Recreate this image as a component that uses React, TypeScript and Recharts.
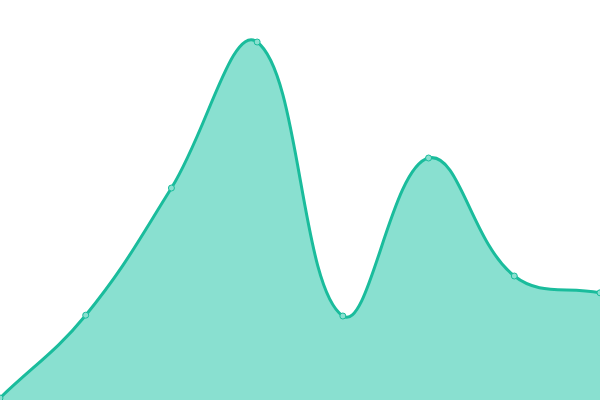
import React from "react";
import { AreaChart, Area, XAxis, YAxis } from "recharts";

const categories = ["A", "B", "C", "D", "E", "F", "G", "H"];
const values = [0.5, 21.2, 53, 89.5, 21, 60.5, 31, 26.8];

const data = categories.map((c, i) => ({ name: c, value: values[i] }));

const TENSION = 0.4;

// Chart.js-style cubic spline curve factory
function splineCurve(context: any) {
  let pts: [number, number][] = [];
  let line = NaN;
  const ctrl = (prev: [number, number], cur: [number, number], next: [number, number]) => {
    const d01 = Math.hypot(cur[0] - prev[0], cur[1] - prev[1]);
    const d12 = Math.hypot(next[0] - cur[0], next[1] - cur[1]);
    let s01 = d01 / (d01 + d12);
    let s12 = d12 / (d01 + d12);
    if (isNaN(s01)) s01 = 0;
    if (isNaN(s12)) s12 = 0;
    const fa = TENSION * s01;
    const fb = TENSION * s12;
    return {
      p: [cur[0] - fa * (next[0] - prev[0]), cur[1] - fa * (next[1] - prev[1])],
      n: [cur[0] + fb * (next[0] - prev[0]), cur[1] + fb * (next[1] - prev[1])],
    };
  };
  return {
    areaStart() {
      line = 0;
    },
    areaEnd() {
      line = NaN;
    },
    lineStart() {
      pts = [];
    },
    lineEnd() {
      const n = pts.length;
      if (n) {
        const first = pts[0];
        if (line) context.lineTo(first[0], first[1]);
        else context.moveTo(first[0], first[1]);
        const cps = pts.map((p, i) => ctrl(pts[i - 1] || p, p, pts[i + 1] || p));
        for (let i = 0; i < n - 1; i++) {
          const a = cps[i].n;
          const b = cps[i + 1].p;
          const e = pts[i + 1];
          context.bezierCurveTo(a[0], a[1], b[0], b[1], e[0], e[1]);
        }
      }
      if (line || (line !== 0 && n === 1)) context.closePath();
      line = 1 - line;
    },
    point(x: number, y: number) {
      pts.push([+x, +y]);
    },
  };
}

export default function App() {
  return (
    <div style={{ position: "absolute", left: 0, top: 0, width: 600, height: 400, background: "#fff" }}>
      <AreaChart width={600} height={400} data={data} margin={{ top: 0, right: 0, bottom: 0, left: 0 }}>
        <XAxis dataKey="name" hide padding={{ left: 0, right: 0 }} />
        <YAxis hide domain={[0, 100]} />
        <Area
          type={splineCurve as any}
          dataKey="value"
          stroke="#1abc9c"
          strokeWidth={3}
          fill="#89e0d0"
          fillOpacity={1}
          dot={{ r: 3, fill: "#8ae0d0", stroke: "#1abc9c", strokeWidth: 1, fillOpacity: 1 }}
          activeDot={false}
          isAnimationActive={false}
        />
      </AreaChart>
    </div>
  );
}
